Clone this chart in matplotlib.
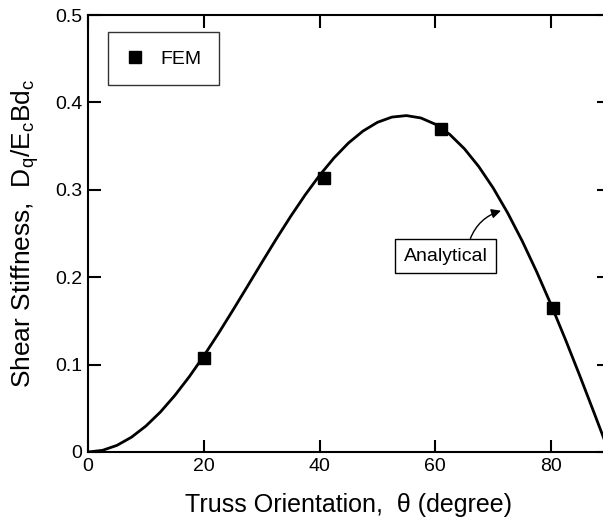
import numpy as np
import matplotlib
matplotlib.use('Agg')
import matplotlib.pyplot as plt

plt.rcParams['font.family'] = ['Liberation Sans', 'DejaVu Sans']
plt.rcParams['mathtext.fontset'] = 'custom'
plt.rcParams['mathtext.rm'] = 'Liberation Sans'
plt.rcParams['mathtext.it'] = 'Liberation Sans'

# 解析曲线
theta = [0, 2.5, 5, 7.5, 10, 12.5, 15, 17.5, 20, 22.5, 25, 27.5, 30, 32.5,
         35, 37.5, 40, 42.5, 45, 47.5, 50, 52.5, 55, 57.5, 60, 62.5, 65,
         67.5, 70, 72.5, 75, 77.5, 80, 82.5, 85, 87.5, 90]
stiffness = [0.0, 0.0019, 0.0076, 0.0169, 0.0297, 0.0457, 0.0647, 0.0862,
             0.1099, 0.1353, 0.1619, 0.1891, 0.2165, 0.2435, 0.2695, 0.2940,
             0.3165, 0.3365, 0.3536, 0.3672, 0.3772, 0.3832, 0.3849, 0.3822,
             0.3750, 0.3633, 0.3471, 0.3266, 0.3020, 0.2735, 0.2415, 0.2063,
             0.1684, 0.1283, 0.0865, 0.0435, 0.0]

# FEM 数据点
fem_theta = [20, 40.8, 61, 80.3]
fem_stiffness = [0.108, 0.314, 0.370, 0.165]

xticks = [0, 20, 40, 60, 80]
yticks = [0, 0.1, 0.2, 0.3, 0.4, 0.5]
ytick_labels = ['0', '0.1', '0.2', '0.3', '0.4', '0.5']

fig = plt.figure(figsize=(6.03, 5.22), dpi=100)
ax = fig.add_axes([88 / 603, 70 / 522, 521 / 603, 437 / 522])

ax.plot(theta, stiffness, 'k-', linewidth=2)
ax.plot(fem_theta, fem_stiffness, 'ks', markersize=9, label='FEM')

ax.set_xlim(0, 90)
ax.set_ylim(0, 0.5)
ax.set_xticks(xticks)
ax.set_xticklabels([str(t) for t in xticks])
ax.set_yticks(yticks)
ax.set_yticklabels(ytick_labels)
ax.tick_params(direction='in', length=9, width=1.5, labelsize=14,
               top=True, right=True, pad=4, colors='black')
for spine in ax.spines.values():
    spine.set_linewidth(1.5)

ax.set_xlabel(r'Truss Orientation,  θ (degree)', fontsize=18, labelpad=13)
ax.set_ylabel(r'Shear Stiffness,  D$_\mathrm{q}$/E$_\mathrm{c}$Bd$_\mathrm{c}$',
              fontsize=19, labelpad=10)

leg = ax.legend(loc='upper left', bbox_to_anchor=(0.038, 0.96), fontsize=14,
                frameon=True, fancybox=False, handlelength=1.0,
                handletextpad=0.8, borderpad=0.9, borderaxespad=0)
leg.get_frame().set_edgecolor('black')
leg.get_frame().set_linewidth(1.0)

ax.annotate('Analytical', xy=(71.8, 0.277), xytext=(61.8, 0.224),
            fontsize=14, ha='center', va='center',
            bbox=dict(boxstyle='square,pad=0.45', fc='white', ec='black', lw=1.0),
            arrowprops=dict(arrowstyle='-|>', color='black', lw=1.0,
                            connectionstyle='arc3,rad=-0.3',
                            relpos=(0.76, 1.0), shrinkA=0, shrinkB=2,
                            mutation_scale=14))

fig.savefig('out.png', dpi=100)
